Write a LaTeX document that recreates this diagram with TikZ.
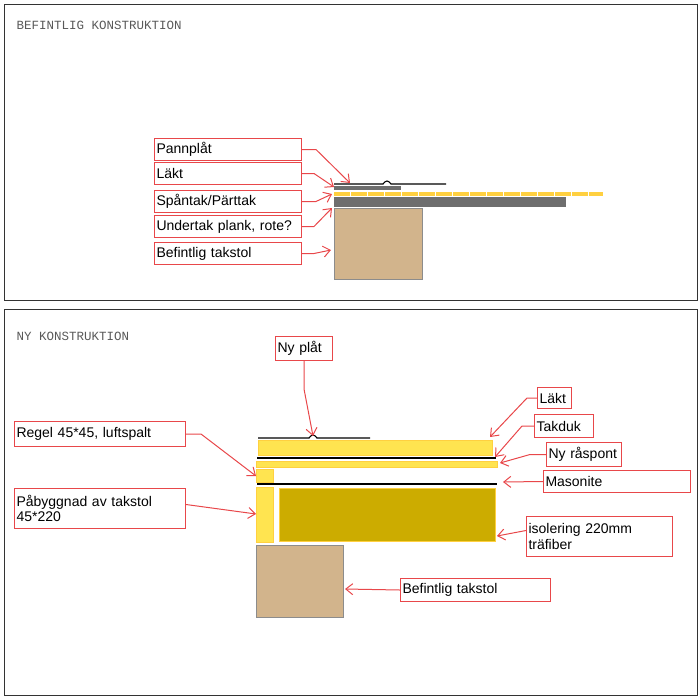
\documentclass[tikz,border=0pt]{standalone}
\usepackage{fontspec}
\setmainfont{Liberation Sans}
\newfontfamily\titlefont{Liberation Mono}
\usetikzlibrary{arrows.meta}
\definecolor{callred}{HTML}{E8474A}
\definecolor{roofgray}{HTML}{6E6E6E}
\definecolor{woodtan}{HTML}{D2B48C}
\definecolor{lathyellow}{HTML}{FFE450}
\definecolor{insgold}{HTML}{CCAC00}
\tikzset{
  callbox/.style={draw=callred,fill=white,line width=1pt,anchor=north west,inner xsep=2pt,inner ysep=2pt,align=left,font=\fontsize{14}{15.5}\selectfont},
  callline/.style={draw=callred,line width=1pt,-{Straight Barb[length=7pt,width=11pt]}},
  paneltitle/.style={anchor=west,font=\titlefont\fontsize{12.5}{14}\selectfont,text=black!65},
  sheetline/.style={line width=1.1pt}
}
\begin{document}
\begin{tikzpicture}[x=1pt,y=-1pt]
\useasboundingbox (0,0) rectangle (700,698);
\draw[black!80] (4,4) rectangle (697,300);
\draw[black!80] (4,309) rectangle (697,695);
\node[paneltitle] (t1) at (13,25) {BEFINTLIG KONSTRUKTION};
\node[paneltitle] (t2) at (13,336) {NY KONSTRUKTION};
% befintlig
\draw[sheetline] (334,184) -- (383,184) .. controls (386,180) and (388,180) .. (391,184) -- (446,184);
\fill[roofgray] (334,186) rectangle (401,190);
\fill[lathyellow!80!orange] (334,192) rectangle (603,196);
\foreach \x in {350,367,384,401,418,435,452,469,486,503,520,537,554,571,588}
  \draw[white,line width=0.5pt] (\x,192) -- (\x,196);
\fill[roofgray] (334,197) rectangle (566,207);
\filldraw[fill=woodtan,draw=black!45] (334,208) rectangle (422,279);
\node[callbox,text width=143pt,minimum height=22pt] (pannplat) at (154,138) {Pannplåt};
\node[callbox,text width=143pt,minimum height=22pt] (lakt) at (154,162) {Läkt};
\node[callbox,text width=143pt,minimum height=22pt] (spantak) at (154,190) {Spåntak/Pärttak};
\node[callbox,text width=143pt,minimum height=22pt] (undertak) at (154,215) {Undertak plank, rote?};
\node[callbox,text width=143pt,minimum height=22pt] (takstol) at (154,242) {Befintlig takstol};
\coordinate (pannplat-t) at (350,183);
\coordinate (lakt-t) at (334,187);
\coordinate (spantak-t) at (332,194);
\coordinate (undertak-t) at (332,208);
\coordinate (takstol-t) at (331,250);
\draw[callline] (pannplat.east) -- ++(14,0) -- (pannplat-t);
\draw[callline] (lakt.east) -- ++(12,0) -- (lakt-t);
\draw[callline] (spantak.east) -- ++(14,0) -- (spantak-t);
\draw[callline] (undertak.east) -- ++(12,0) -- (undertak-t);
\draw[callline] (takstol.east) -- ++(12,0) -- (takstol-t);
% ny
\draw[sheetline] (258,438) -- (309,438) .. controls (312,434) and (314,434) .. (317,438) -- (370,438);
\filldraw[fill=lathyellow,draw=lathyellow!80!orange] (258,440) rectangle (492,455);
\draw[line width=1.1pt] (257,458) -- (496,458);
\filldraw[fill=lathyellow,draw=lathyellow!80!orange] (256,461) rectangle (497,467);
\filldraw[fill=lathyellow,draw=lathyellow!80!orange] (256,469) rectangle (273,482);
\draw[line width=1.1pt] (257,484) -- (497,484);
\filldraw[fill=lathyellow,draw=lathyellow!80!orange] (256,487) rectangle (273,542);
\filldraw[fill=insgold,draw=lathyellow!80!orange] (279,488) rectangle (495,541);
\filldraw[fill=woodtan,draw=black!45] (256,545) rectangle (343,617);
\node[callbox,text width=53pt,minimum height=24pt] (nyplat) at (275,336) {Ny plåt};
\node[callbox,text width=30pt,minimum height=21pt] (nylakt) at (537,387) {Läkt};
\node[callbox,text width=55pt,minimum height=23pt] (takduk) at (534,414) {Takduk};
\node[callbox,text width=71pt,minimum height=24pt] (raspont) at (546,442) {Ny råspont};
\node[callbox,text width=143pt,minimum height=22pt] (masonite) at (543,470) {Masonite};
\node[callbox,text width=142pt,minimum height=40pt,inner ysep=1pt] (isolering) at (526,516) {isolering 220mm\\träfiber};
\node[callbox,text width=146pt,minimum height=23pt] (nytakstol) at (400,578) {Befintlig takstol};
\node[callbox,text width=167pt,minimum height=25pt] (regel) at (14,421) {Regel 45*45, luftspalt};
\node[callbox,text width=167pt,minimum height=40pt,inner ysep=1pt] (pabyggnad) at (14,488) {Påbyggnad av takstol\\45*220};
\coordinate (nyplat-t) at (313,436);
\coordinate (nylakt-t) at (490,437);
\coordinate (takduk-t) at (495,457);
\coordinate (raspont-t) at (500,463);
\coordinate (masonite-t) at (503,482);
\coordinate (isolering-t) at (497,536);
\coordinate (nytakstol-t) at (345,589);
\coordinate (regel-t) at (256,476);
\coordinate (pabyggnad-t) at (256,514);
\draw[callline] (nyplat.south) -- ++(0,28) -- (nyplat-t);
\draw[callline] (nylakt.west) -- ++(-10,0) -- (nylakt-t);
\draw[callline] (takduk.west) -- ++(-12,0) -- (takduk-t);
\draw[callline] (raspont.west) -- ++(-16,0) -- (raspont-t);
\draw[callline] (masonite.west) -- (masonite-t);
\draw[callline] ([yshift=6pt]isolering.west) -- (isolering-t);
\draw[callline] (nytakstol.west) -- (nytakstol-t);
\draw[callline] (regel.east) -- ++(15,0) -- (regel-t);
\draw[callline] ([yshift=4pt]pabyggnad.east) -- (pabyggnad-t);
\end{tikzpicture}
\end{document}
